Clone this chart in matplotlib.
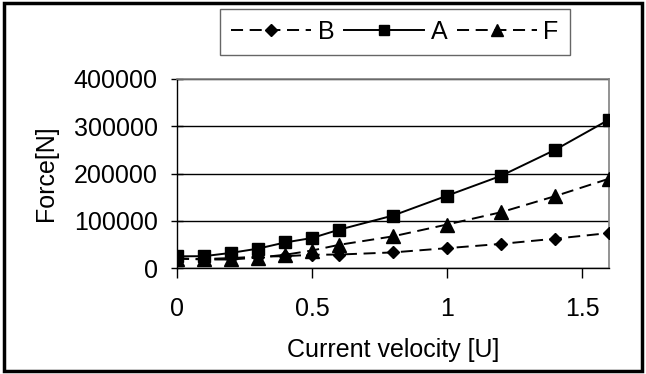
import matplotlib
matplotlib.use("Agg")
import matplotlib.pyplot as plt
from matplotlib.patches import Rectangle

plt.rcParams['font.family'] = ['Liberation Sans', 'DejaVu Sans']

velocity = [0, 0.1, 0.2, 0.3, 0.4, 0.5, 0.6, 0.8, 1.0, 1.2, 1.4, 1.6]
series_B = [20000, 19000, 21000, 24000, 25000, 28000, 28500, 33000, 42000, 51000, 62000, 74000]
series_A = [24700, 25000, 32000, 41000, 54000, 63500, 81000, 111000, 153000, 195000, 250000, 314000]
series_F = [20000, 18000, 18000, 22000, 28000, 37000, 49000, 67000, 92000, 118000, 152000, 189000]
x_ticks = [0, 0.5, 1, 1.5]
x_tick_labels = ['0', '0.5', '1', '1.5']
y_ticks = [0, 100000, 200000, 300000, 400000]
y_tick_labels = ['0', '100000', '200000', '300000', '400000']

W, H = 646, 374
fig = plt.figure(figsize=(W / 100, H / 100), dpi=100)
ax = fig.add_axes([177 / W, 1 - 268 / H, (609 - 177) / W, (268 - 79) / H])

dash = (0, (6.2, 3.4))
lw = 1.4
lB, = ax.plot(velocity, series_B, color='black', lw=lw, linestyle=dash,
              marker='D', markersize=6.3, label='B', zorder=3)
lA, = ax.plot(velocity, series_A, color='black', lw=lw, linestyle='-',
              marker='s', markersize=8.3, label='A', zorder=3)
lF, = ax.plot(velocity, series_F, color='black', lw=lw, linestyle=dash,
              marker='^', markersize=9.5, label='F', zorder=3)

ax.set_xlim(0, 1.6)
ax.set_ylim(0, 400000)
ax.set_xticks(x_ticks)
ax.set_xticklabels(x_tick_labels)
ax.set_yticks(y_ticks)
ax.set_yticklabels(y_tick_labels)

fs = 18
ax.tick_params(axis='x', direction='out', length=7, width=1, labelsize=fs, pad=14)
ax.tick_params(axis='y', direction='inout', length=8, width=1, labelsize=fs, pad=10)

ax.yaxis.grid(True, color='black', lw=1)
ax.set_axisbelow(True)
for s in ['top', 'right']:
    ax.spines[s].set_color('#808080')
    ax.spines[s].set_linewidth(1.2)
for s in ['left', 'bottom']:
    ax.spines[s].set_color('black')
    ax.spines[s].set_linewidth(1)

ax.set_xlabel('Current velocity [U]', fontsize=fs, labelpad=12)
ax.set_ylabel('Force[N]', fontsize=fs, labelpad=11)

leg = fig.legend(handles=[lB, lA, lF], loc='center', ncol=3,
                 bbox_to_anchor=(395 / W, 1 - 32 / H), fontsize=fs,
                 frameon=True, fancybox=False, edgecolor='#404040',
                 handlelength=3.2, handletextpad=0.25, columnspacing=0.4,
                 borderpad=0.45, markerscale=0.9)
leg.get_frame().set_linewidth(1)

fig.patches.append(Rectangle((4 / W, 3 / H), (W - 8) / W, (H - 6) / H,
                             transform=fig.transFigure, fill=False,
                             edgecolor='black', lw=2.5))

fig.savefig('out.png', dpi=100)
